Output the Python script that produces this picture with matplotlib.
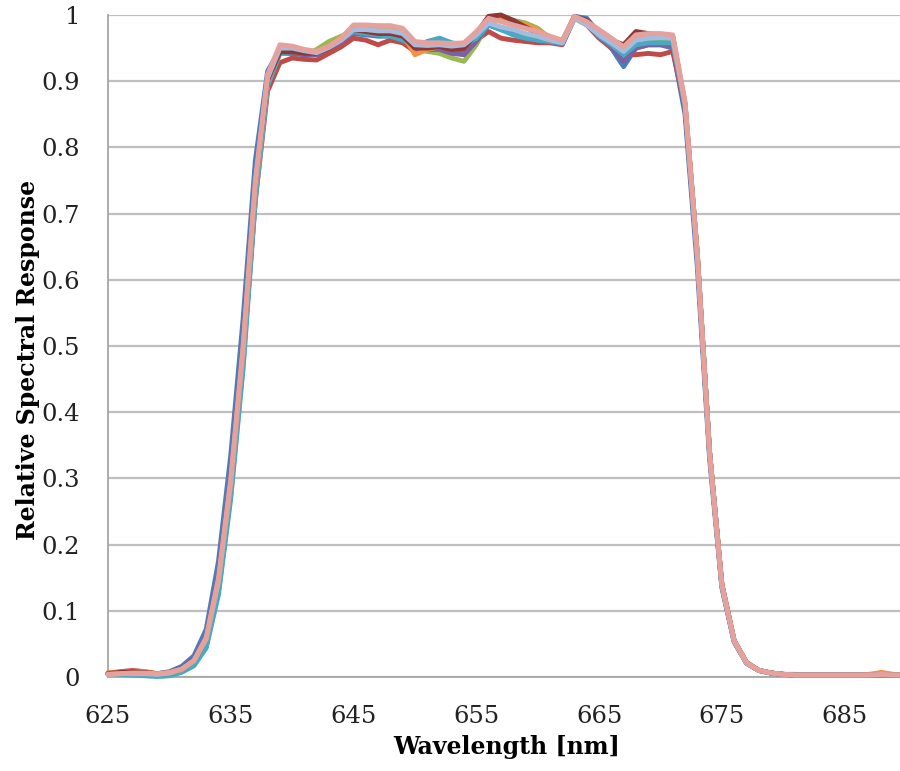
"""Relative spectral response of a red band filter (multiple detectors)."""

import matplotlib
matplotlib.use("Agg")
import matplotlib.pyplot as plt
import numpy as np

# wavelength grid, 1 nm steps
wavelength_nm = np.arange(625, 691)

# one list per detector, 625..690 nm
blue = [0.005, 0.006, 0.007, 0.006, 0.005, 0.008, 0.016, 0.032, 0.072, 0.175, 0.335,
        0.540, 0.780, 0.915, 0.948, 0.946, 0.942, 0.940, 0.948, 0.960, 0.972, 0.970,
        0.968, 0.968, 0.962, 0.950, 0.948, 0.950, 0.945, 0.948, 0.965, 0.985, 0.978,
        0.972, 0.965, 0.962, 0.960, 0.958, 0.998, 0.995, 0.972, 0.950, 0.922, 0.950,
        0.955, 0.955, 0.950, 0.850, 0.620, 0.330, 0.135, 0.053, 0.021, 0.010, 0.006,
        0.004, 0.004, 0.003, 0.003, 0.003, 0.003, 0.003, 0.004, 0.003, 0.003, 0.003]
red = [0.006, 0.008, 0.010, 0.008, 0.005, 0.006, 0.011, 0.022, 0.054, 0.140, 0.285,
       0.480, 0.720, 0.885, 0.928, 0.935, 0.933, 0.932, 0.942, 0.952, 0.965, 0.962,
       0.955, 0.962, 0.958, 0.945, 0.950, 0.950, 0.948, 0.948, 0.962, 0.975, 0.965,
       0.962, 0.960, 0.958, 0.958, 0.955, 0.995, 0.985, 0.965, 0.950, 0.940, 0.940,
       0.942, 0.940, 0.945, 0.860, 0.635, 0.338, 0.138, 0.054, 0.021, 0.010, 0.006,
       0.004, 0.003, 0.003, 0.003, 0.003, 0.003, 0.003, 0.003, 0.003, 0.003, 0.003]
green = [0.004, 0.004, 0.003, 0.002, 0.001, 0.002, 0.008, 0.018, 0.046, 0.128, 0.275,
         0.470, 0.725, 0.895, 0.942, 0.942, 0.940, 0.948, 0.960, 0.968, 0.975, 0.975,
         0.975, 0.972, 0.968, 0.948, 0.945, 0.942, 0.935, 0.930, 0.955, 0.990, 0.995,
         0.992, 0.988, 0.980, 0.965, 0.960, 0.997, 0.990, 0.972, 0.955, 0.940, 0.958,
         0.960, 0.962, 0.960, 0.865, 0.640, 0.340, 0.140, 0.055, 0.022, 0.010, 0.006,
         0.004, 0.003, 0.003, 0.003, 0.003, 0.003, 0.003, 0.003, 0.003, 0.003, 0.003]
purple = [0.005, 0.006, 0.006, 0.005, 0.004, 0.006, 0.012, 0.026, 0.060, 0.152, 0.305,
          0.505, 0.750, 0.905, 0.943, 0.942, 0.940, 0.940, 0.950, 0.960, 0.975, 0.972,
          0.970, 0.970, 0.965, 0.948, 0.948, 0.948, 0.942, 0.940, 0.960, 0.985, 0.980,
          0.975, 0.968, 0.962, 0.960, 0.956, 0.997, 0.990, 0.968, 0.952, 0.930, 0.950,
          0.955, 0.955, 0.955, 0.860, 0.635, 0.338, 0.138, 0.054, 0.021, 0.010, 0.006,
          0.004, 0.003, 0.003, 0.003, 0.003, 0.003, 0.003, 0.003, 0.003, 0.003, 0.003]
aqua = [0.004, 0.004, 0.003, 0.002, 0.001, 0.002, 0.007, 0.017, 0.044, 0.125, 0.270,
        0.465, 0.720, 0.893, 0.942, 0.945, 0.942, 0.942, 0.953, 0.963, 0.975, 0.972,
        0.970, 0.968, 0.962, 0.952, 0.960, 0.965, 0.958, 0.955, 0.965, 0.985, 0.978,
        0.970, 0.965, 0.962, 0.960, 0.957, 0.996, 0.988, 0.968, 0.955, 0.940, 0.955,
        0.958, 0.958, 0.958, 0.862, 0.638, 0.340, 0.140, 0.055, 0.022, 0.010, 0.006,
        0.004, 0.003, 0.003, 0.003, 0.003, 0.003, 0.003, 0.003, 0.003, 0.003, 0.003]
orange = [0.006, 0.007, 0.009, 0.008, 0.005, 0.006, 0.011, 0.024, 0.057, 0.145, 0.292,
          0.490, 0.738, 0.900, 0.946, 0.948, 0.945, 0.945, 0.953, 0.966, 0.982, 0.982,
          0.980, 0.980, 0.972, 0.940, 0.948, 0.952, 0.950, 0.952, 0.970, 0.992, 0.992,
          0.990, 0.985, 0.978, 0.965, 0.960, 0.997, 0.990, 0.975, 0.960, 0.948, 0.965,
          0.968, 0.968, 0.965, 0.866, 0.640, 0.340, 0.140, 0.055, 0.022, 0.010, 0.006,
          0.004, 0.003, 0.003, 0.003, 0.003, 0.003, 0.003, 0.004, 0.007, 0.004, 0.003]
dark_red = [0.005, 0.007, 0.008, 0.007, 0.005, 0.007, 0.013, 0.026, 0.060, 0.150, 0.298,
            0.498, 0.745, 0.902, 0.944, 0.945, 0.942, 0.942, 0.950, 0.963, 0.978, 0.975,
            0.972, 0.972, 0.968, 0.950, 0.950, 0.952, 0.948, 0.950, 0.972, 0.998, 1.000,
            0.992, 0.982, 0.972, 0.962, 0.960, 0.998, 0.992, 0.975, 0.962, 0.955, 0.975,
            0.972, 0.970, 0.968, 0.865, 0.638, 0.340, 0.140, 0.055, 0.022, 0.010, 0.006,
            0.004, 0.003, 0.003, 0.003, 0.003, 0.003, 0.003, 0.003, 0.003, 0.003, 0.003]
light_blue = [0.004, 0.005, 0.005, 0.005, 0.004, 0.006, 0.012, 0.025, 0.058, 0.145, 0.295,
              0.495, 0.745, 0.905, 0.950, 0.950, 0.946, 0.943, 0.951, 0.962, 0.978, 0.978,
              0.976, 0.976, 0.972, 0.955, 0.954, 0.955, 0.953, 0.955, 0.970, 0.988, 0.982,
              0.978, 0.972, 0.968, 0.962, 0.958, 0.995, 0.985, 0.970, 0.958, 0.945, 0.962,
              0.965, 0.966, 0.965, 0.865, 0.636, 0.338, 0.138, 0.054, 0.021, 0.010, 0.006,
              0.004, 0.003, 0.003, 0.003, 0.003, 0.003, 0.003, 0.003, 0.003, 0.003, 0.003]
pink = [0.004, 0.005, 0.006, 0.006, 0.005, 0.007, 0.012, 0.025, 0.060, 0.150, 0.300,
        0.500, 0.750, 0.910, 0.955, 0.953, 0.948, 0.945, 0.953, 0.965, 0.985, 0.985,
        0.984, 0.984, 0.980, 0.960, 0.958, 0.958, 0.957, 0.958, 0.975, 0.995, 0.990,
        0.985, 0.980, 0.975, 0.968, 0.962, 0.998, 0.990, 0.978, 0.965, 0.952, 0.970,
        0.972, 0.972, 0.970, 0.870, 0.640, 0.340, 0.140, 0.055, 0.022, 0.010, 0.006,
        0.004, 0.003, 0.003, 0.003, 0.003, 0.003, 0.003, 0.003, 0.004, 0.003, 0.003]

# drawn in this order, last one ends up on top
series = [
    (blue, "#4a7ebb"),
    (red, "#be4b48"),
    (green, "#98b954"),
    (purple, "#7d60a0"),
    (aqua, "#46aac5"),
    (orange, "#f69240"),
    (dark_red, "#8c3836"),
    (light_blue, "#a7bcdc"),
    (pink, "#e6a19d"),
]

x_ticks = [625, 635, 645, 655, 665, 675, 685]
y_ticks = [0, 0.1, 0.2, 0.3, 0.4, 0.5, 0.6, 0.7, 0.8, 0.9, 1]

plt.rcParams["font.family"] = ["DejaVu Serif"]

fig = plt.figure(figsize=(9, 7.71), dpi=100)
ax = fig.add_axes([108 / 900, 94 / 771, 798 / 900, 662 / 771])

for values, color in series:
    ax.plot(wavelength_nm, values, color=color, lw=3.5, solid_joinstyle="round",
            solid_capstyle="round", clip_on=False, zorder=3)

ax.set_xlim(625, 690)
ax.set_ylim(0, 1)
ax.set_xticks(x_ticks)
ax.set_yticks(y_ticks)
ax.set_yticklabels([f"{v:g}" for v in y_ticks])
ax.tick_params(axis="both", length=0, labelsize=17.5, colors="#222222")
ax.tick_params(axis="x", pad=20)
ax.tick_params(axis="y", pad=20)

ax.grid(axis="y", color="#bfbfbf", lw=1.6)
ax.set_axisbelow(True)
for side in ("top", "right"):
    ax.spines[side].set_visible(False)
for side in ("left", "bottom"):
    ax.spines[side].set_color("#a6a6a6")
    ax.spines[side].set_linewidth(1.3)

ax.set_xlabel("Wavelength [nm]", fontsize=17, fontweight="bold", va="center")
ax.set_ylabel("Relative Spectral Response", fontsize=17, fontweight="bold", va="center")
ax.xaxis.set_label_coords(0.499, -0.1057)
ax.yaxis.set_label_coords(-0.1003, 0.479)

fig.savefig("out.png", dpi=100)
